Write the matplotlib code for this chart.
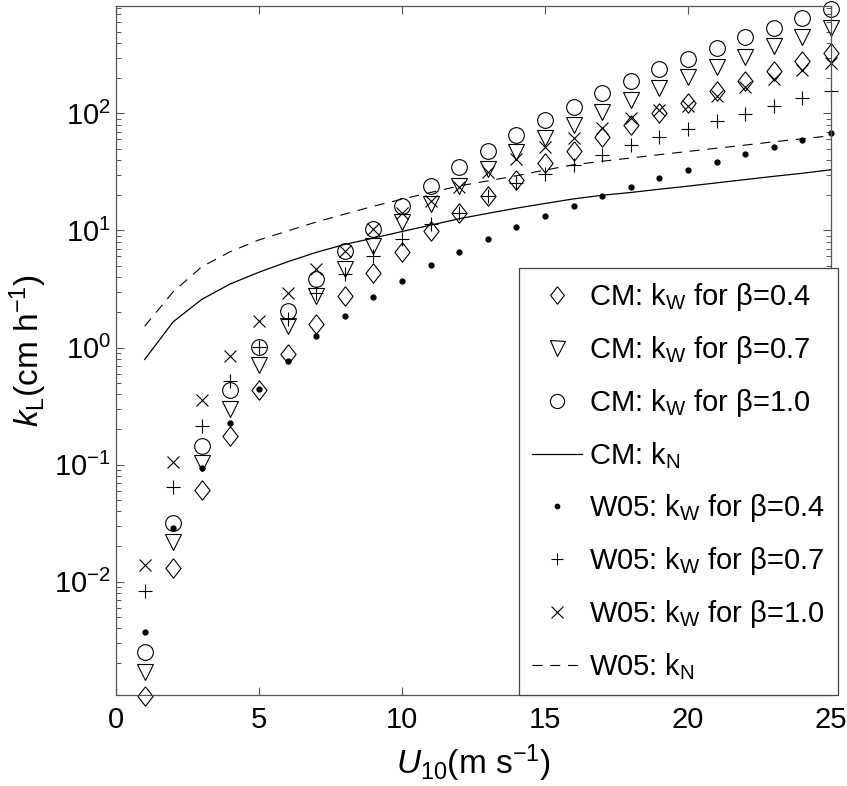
import matplotlib
matplotlib.use('Agg')
import matplotlib.pyplot as plt

plt.rcParams['font.family'] = ['Liberation Sans', 'DejaVu Sans']
plt.rcParams['mathtext.fontset'] = 'custom'
plt.rcParams['mathtext.rm'] = 'Liberation Sans'
plt.rcParams['mathtext.it'] = 'Liberation Sans:italic'
plt.rcParams['mathtext.default'] = 'regular'

# wind speed U10 (m/s)
u10 = list(range(1, 26))

# CM model, kW for three beta values
cm_b04 = [0.00105, 0.0132, 0.061, 0.177, 0.43, 0.88, 1.59, 2.75, 4.35, 6.6,
          9.8, 14.2, 19.7, 27, 38, 47.5, 62.4, 80, 100, 122,
          156, 190, 232, 282, 327]
cm_b07 = [0.0017, 0.0217, 0.103, 0.30, 0.71, 1.52, 2.75, 4.7, 7.36, 11.7,
          16.8, 24, 33.4, 46.4, 61.5, 79, 102, 130, 165, 206,
          251, 305, 373, 448, 538]
cm_b10 = [0.0025, 0.032, 0.145, 0.436, 1.01, 2.07, 3.82, 6.68, 10.2, 16.2,
          24, 34.5, 47.3, 65.3, 87, 113, 148, 188, 240, 292,
          363, 448, 540, 656, 783]
cm_kn = [0.79, 1.66, 2.58, 3.5, 4.4, 5.4, 6.5, 7.6, 8.6, 9.8,
         11.1, 12.6, 14.0, 15.5, 17.0, 18.6, 20.0, 21.1, 22.5, 23.9,
         25.5, 27.2, 29.0, 30.8, 33.0]

# W05 model
w05_b04 = [0.0037, 0.0285, 0.094, 0.225, 0.446, 0.76, 1.25, 1.85, 2.70, 3.72,
           5.04, 6.6, 8.5, 10.7, 13.3, 16.2, 19.7, 23.7, 28, 33,
           38.5, 44.6, 51.9, 59.6, 67.5]
w05_b07 = [0.0083, 0.064, 0.215, 0.52, 1.01, 1.74, 2.93, 4.27, 6.05, 8.5,
           11.3, 14.2, 19.7, 25.6, 30.6, 36, 44.3, 54, 62.4, 73.5,
           86.6, 98.8, 116, 135, 154]
w05_b10 = [0.014, 0.106, 0.354, 0.84, 1.68, 2.90, 4.66, 6.68, 10.2, 14.0,
           17.9, 23.6, 31.7, 40.6, 51.9, 62, 75, 91.4, 107, 116,
           142, 169, 197, 235, 268]
w05_kn = [1.52, 3.0, 4.9, 6.6, 8.3, 9.9, 11.8, 13.8, 16.1, 18.5,
          21.1, 24, 26.5, 29.3, 32.8, 36.4, 39, 41.6, 44.4, 47.3,
          50.4, 53.6, 57.2, 60.7, 64.4]

labels = [r'CM: k$_{W}$ for β=0.4', r'CM: k$_{W}$ for β=0.7',
          r'CM: k$_{W}$ for β=1.0', r'CM: k$_{N}$',
          r'W05: k$_{W}$ for β=0.4', r'W05: k$_{W}$ for β=0.7',
          r'W05: k$_{W}$ for β=1.0', r'W05: k$_{N}$']

diamond = [(0, 1), (0.78, 0), (0, -1), (-0.78, 0), (0, 1)]

fig = plt.figure(figsize=(8.47, 7.86), dpi=100)
ax = fig.add_axes([0.137, 0.116, 0.844, 0.876])

mk = dict(linestyle='none', markerfacecolor='none', markeredgecolor='k',
          markeredgewidth=0.8, clip_on=False)
ax.plot(u10, cm_b04, marker=diamond, markersize=14, label=labels[0], **mk)
ax.plot(u10, cm_b07, marker='v', markersize=12, label=labels[1], **mk)
ax.plot(u10, cm_b10, marker='o', markersize=11.3, label=labels[2], **mk)
ax.plot(u10, cm_kn, color='k', linewidth=0.9, label=labels[3])
ax.plot(u10, w05_b04, linestyle='none', marker='o', markersize=3.5,
        color='k', clip_on=False, label=labels[4])
ax.plot(u10, w05_b07, marker='+', markersize=10, label=labels[5], **mk)
ax.plot(u10, w05_b10, marker='x', markersize=9, label=labels[6], **mk)
ax.plot(u10, w05_kn, color='k', linewidth=0.8, dashes=(9, 7), label=labels[7])

ax.set_yscale('log')
ax.set_xlim(0, 25)
ax.set_ylim(1.08e-3, 822)
ax.set_xticks([0, 5, 10, 15, 20, 25])

ax.tick_params(which='both', direction='in', top=True, right=True,
               labelsize=21, color='#555555')
ax.tick_params(which='major', length=6, width=0.8)
ax.tick_params(which='minor', length=3.5, width=0.7)
ax.tick_params(axis='x', which='major', pad=8)
for s in ax.spines.values():
    s.set_color('#555555')
    s.set_linewidth(0.9)

ax.set_xlabel(r'$\mathit{U}_{10}$(m s$^{-1}$)', fontsize=24, labelpad=6)
ax.set_ylabel(r'$\mathit{k}_{L}$(cm h$^{-1}$)', fontsize=24, labelpad=4)

leg = ax.legend(loc='upper left', bbox_to_anchor=(519 / 847, 1 - 268 / 786),
                bbox_transform=fig.transFigure, borderaxespad=0,
                fontsize=21, frameon=True, fancybox=False, framealpha=1,
                edgecolor='#444444', labelspacing=0.72, handlelength=1.7,
                handletextpad=0.25, borderpad=0.45, markerscale=0.9)
leg.get_frame().set_linewidth(0.9)

fig.savefig('out.png', dpi=100)
